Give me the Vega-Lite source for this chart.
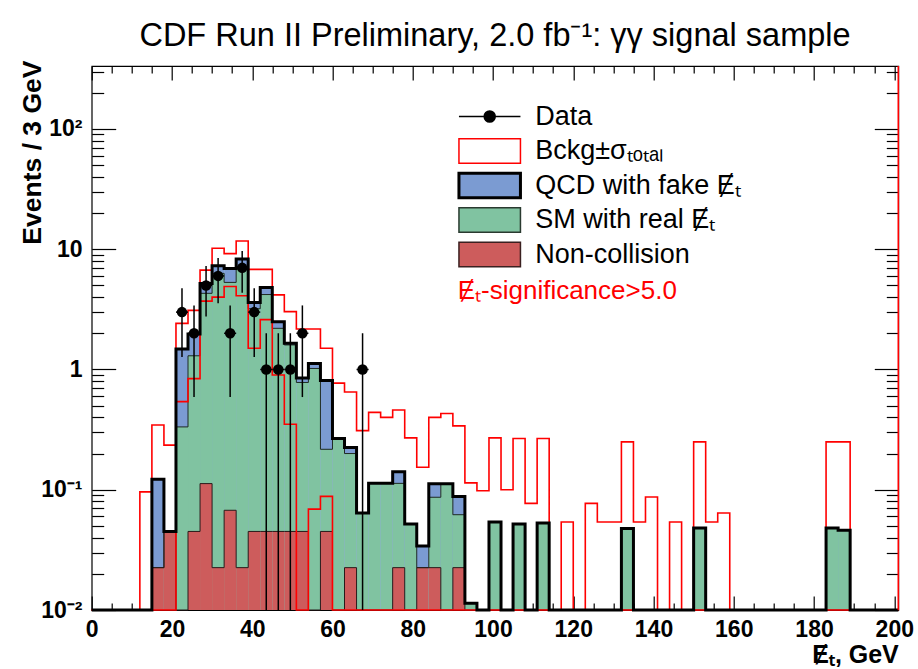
{
  "$schema": "https://vega.github.io/schema/vega-lite/v6.json",
  "width": 806.6,
  "height": 544,
  "autosize": {"type": "none"},
  "padding": {"left": 91.7, "top": 66, "right": 19.7, "bottom": 59},
  "background": "white",
  "config": {"view": {"stroke": "black", "strokeWidth": 1.2}, "font": "Liberation Sans"},
  "title": {
    "text": "CDF Run II Preliminary, 2.0 fb\u207b\u00b9: \u03b3\u03b3 signal sample",
    "font": "Liberation Sans", "fontSize": 32.5, "fontWeight": "normal", "color": "black",
    "anchor": "middle", "frame": "group", "baseline": "alphabetic", "offset": -18
  },
  "datasets": {
    "bins": [
      {"x0":0,"x1":3,"tot":0,"sm":0,"nc":0,"bhi":0,"blo":0},
      {"x0":3,"x1":6,"tot":0,"sm":0,"nc":0,"bhi":0,"blo":0},
      {"x0":6,"x1":9,"tot":0,"sm":0,"nc":0,"bhi":0,"blo":0},
      {"x0":9,"x1":12,"tot":0,"sm":0,"nc":0,"bhi":0,"blo":0},
      {"x0":12,"x1":15,"tot":0,"sm":0,"nc":0,"bhi":0.096,"blo":0},
      {"x0":15,"x1":18,"tot":0.122,"sm":0.0225,"nc":0.0225,"bhi":0.345,"blo":0},
      {"x0":18,"x1":21,"tot":0.045,"sm":0.045,"nc":0.045,"bhi":0.235,"blo":0},
      {"x0":21,"x1":24,"tot":1.48,"sm":0.333,"nc":0,"bhi":2.42,"blo":0.54},
      {"x0":24,"x1":27,"tot":1.97,"sm":1.3,"nc":0.045,"bhi":3.1,"blo":0.84},
      {"x0":27,"x1":30,"tot":5.2,"sm":4.3,"nc":0.1125,"bhi":6.7,"blo":3.7},
      {"x0":30,"x1":33,"tot":7.3,"sm":6.3,"nc":0.0225,"bhi":10.2,"blo":4.0},
      {"x0":33,"x1":36,"tot":6.9,"sm":5.3,"nc":0.0675,"bhi":9.2,"blo":4.9},
      {"x0":36,"x1":39,"tot":8.3,"sm":7.2,"nc":0.0225,"bhi":11.7,"blo":4.1},
      {"x0":39,"x1":42,"tot":3.6,"sm":3.2,"nc":0.045,"bhi":6.8,"blo":1.5},
      {"x0":42,"x1":45,"tot":4.8,"sm":4.2,"nc":0.045,"bhi":6.8,"blo":2.6},
      {"x0":45,"x1":48,"tot":2.5,"sm":2.2,"nc":0.045,"bhi":4.17,"blo":0.9},
      {"x0":48,"x1":51,"tot":1.65,"sm":1.6,"nc":0.045,"bhi":3.03,"blo":0.35},
      {"x0":51,"x1":54,"tot":0.85,"sm":0.78,"nc":0.045,"bhi":2.17,"blo":0},
      {"x0":54,"x1":57,"tot":1.12,"sm":1.02,"nc":0,"bhi":2.17,"blo":0.069},
      {"x0":57,"x1":60,"tot":0.81,"sm":0.217,"nc":0.045,"bhi":1.5,"blo":0.088},
      {"x0":60,"x1":63,"tot":0.267,"sm":0.267,"nc":0,"bhi":0.77,"blo":0},
      {"x0":63,"x1":66,"tot":0.225,"sm":0.2,"nc":0.0225,"bhi":0.65,"blo":0},
      {"x0":66,"x1":69,"tot":0.064,"sm":0.064,"nc":0,"bhi":0.31,"blo":0},
      {"x0":69,"x1":72,"tot":0.113,"sm":0.113,"nc":0,"bhi":0.44,"blo":0},
      {"x0":72,"x1":75,"tot":0.113,"sm":0.113,"nc":0,"bhi":0.40,"blo":0},
      {"x0":75,"x1":78,"tot":0.141,"sm":0.113,"nc":0.0225,"bhi":0.46,"blo":0},
      {"x0":78,"x1":81,"tot":0.052,"sm":0.052,"nc":0,"bhi":0.27,"blo":0},
      {"x0":81,"x1":84,"tot":0.034,"sm":0.0225,"nc":0.0225,"bhi":0.154,"blo":0},
      {"x0":84,"x1":87,"tot":0.112,"sm":0.0866,"nc":0.0225,"bhi":0.40,"blo":0},
      {"x0":87,"x1":90,"tot":0.112,"sm":0.112,"nc":0,"bhi":0.43,"blo":0},
      {"x0":90,"x1":93,"tot":0.088,"sm":0.062,"nc":0.0225,"bhi":0.34,"blo":0},
      {"x0":93,"x1":96,"tot":0.0114,"sm":0.0114,"nc":0,"bhi":0.114,"blo":0},
      {"x0":96,"x1":99,"tot":0,"sm":0,"nc":0,"bhi":0.098,"blo":0},
      {"x0":99,"x1":102,"tot":0.054,"sm":0.054,"nc":0,"bhi":0.27,"blo":0},
      {"x0":102,"x1":105,"tot":0,"sm":0,"nc":0,"bhi":0.1,"blo":0},
      {"x0":105,"x1":108,"tot":0.052,"sm":0.052,"nc":0,"bhi":0.267,"blo":0},
      {"x0":108,"x1":111,"tot":0,"sm":0,"nc":0,"bhi":0.077,"blo":0},
      {"x0":111,"x1":114,"tot":0.053,"sm":0.053,"nc":0,"bhi":0.267,"blo":0},
      {"x0":114,"x1":117,"tot":0,"sm":0,"nc":0,"bhi":0,"blo":0},
      {"x0":117,"x1":120,"tot":0,"sm":0,"nc":0,"bhi":0.054,"blo":0},
      {"x0":120,"x1":123,"tot":0,"sm":0,"nc":0,"bhi":0,"blo":0},
      {"x0":123,"x1":126,"tot":0,"sm":0,"nc":0,"bhi":0.077,"blo":0},
      {"x0":126,"x1":129,"tot":0,"sm":0,"nc":0,"bhi":0.054,"blo":0},
      {"x0":129,"x1":132,"tot":0,"sm":0,"nc":0,"bhi":0.054,"blo":0},
      {"x0":132,"x1":135,"tot":0.0476,"sm":0.0476,"nc":0,"bhi":0.25,"blo":0},
      {"x0":135,"x1":138,"tot":0,"sm":0,"nc":0,"bhi":0.054,"blo":0},
      {"x0":138,"x1":141,"tot":0,"sm":0,"nc":0,"bhi":0.087,"blo":0},
      {"x0":141,"x1":144,"tot":0,"sm":0,"nc":0,"bhi":0,"blo":0},
      {"x0":144,"x1":147,"tot":0,"sm":0,"nc":0,"bhi":0.054,"blo":0},
      {"x0":147,"x1":150,"tot":0,"sm":0,"nc":0,"bhi":0,"blo":0},
      {"x0":150,"x1":153,"tot":0.048,"sm":0.048,"nc":0,"bhi":0.25,"blo":0},
      {"x0":153,"x1":156,"tot":0,"sm":0,"nc":0,"bhi":0.054,"blo":0},
      {"x0":156,"x1":159,"tot":0,"sm":0,"nc":0,"bhi":0.064,"blo":0},
      {"x0":159,"x1":162,"tot":0,"sm":0,"nc":0,"bhi":0,"blo":0},
      {"x0":162,"x1":165,"tot":0,"sm":0,"nc":0,"bhi":0,"blo":0},
      {"x0":165,"x1":168,"tot":0,"sm":0,"nc":0,"bhi":0,"blo":0},
      {"x0":168,"x1":171,"tot":0,"sm":0,"nc":0,"bhi":0,"blo":0},
      {"x0":171,"x1":174,"tot":0,"sm":0,"nc":0,"bhi":0,"blo":0},
      {"x0":174,"x1":177,"tot":0,"sm":0,"nc":0,"bhi":0,"blo":0},
      {"x0":177,"x1":180,"tot":0,"sm":0,"nc":0,"bhi":0,"blo":0},
      {"x0":180,"x1":183,"tot":0,"sm":0,"nc":0,"bhi":0,"blo":0},
      {"x0":183,"x1":186,"tot":0.048,"sm":0.048,"nc":0,"bhi":0.25,"blo":0},
      {"x0":186,"x1":189,"tot":0.046,"sm":0.046,"nc":0,"bhi":0.25,"blo":0},
      {"x0":189,"x1":192,"tot":0,"sm":0,"nc":0,"bhi":0,"blo":0},
      {"x0":192,"x1":195,"tot":0,"sm":0,"nc":0,"bhi":0,"blo":0},
      {"x0":195,"x1":198,"tot":0,"sm":0,"nc":0,"bhi":0,"blo":0},
      {"x0":198,"x1":201,"tot":0,"sm":0,"nc":0,"bhi":0,"blo":0},
      {"x0":201,"x1":201,"tot":0,"sm":0,"nc":0,"bhi":0,"blo":0}
    ],
    "events": [
      {"x0":21,"x1":24,"xc":22.5,"n":3,"elo":1.27,"ehi":4.73},
      {"x0":24,"x1":27,"xc":25.5,"n":2,"elo":0.59,"ehi":3.41},
      {"x0":27,"x1":30,"xc":28.5,"n":5,"elo":2.76,"ehi":7.24},
      {"x0":30,"x1":33,"xc":31.5,"n":6,"elo":3.55,"ehi":8.45},
      {"x0":33,"x1":36,"xc":34.5,"n":2,"elo":0.59,"ehi":3.41},
      {"x0":36,"x1":39,"xc":37.5,"n":7,"elo":4.35,"ehi":9.65},
      {"x0":39,"x1":42,"xc":40.5,"n":3,"elo":1.27,"ehi":4.73},
      {"x0":42,"x1":45,"xc":43.5,"n":1,"elo":0,"ehi":2},
      {"x0":45,"x1":48,"xc":46.5,"n":1,"elo":0,"ehi":2},
      {"x0":48,"x1":51,"xc":49.5,"n":1,"elo":0,"ehi":2},
      {"x0":51,"x1":54,"xc":52.5,"n":2,"elo":0.59,"ehi":3.41},
      {"x0":66,"x1":69,"xc":67.5,"n":1,"elo":0,"ehi":2}
    ],
    "notes": [
      {"label": "\u0246\u209c-significance>5.0", "at": 91.2, "level": 3.86}
    ],
    "edges": [
      {"edge": 201}
    ]
  },
  "layer": [
    {
      "data": {"name": "bins"},
      "transform": [{"fold": ["tot", "sm", "nc"], "as": ["comp", "v"]}],
      "mark": {"type": "rect", "strokeWidth": 0},
      "encoding": {
        "x": {
          "field": "x0", "type": "quantitative",
          "scale": {"domain": [0, 201], "nice": false, "zero": false},
          "axis": {
            "orient": "bottom",
            "values": [0,5,10,15,20,25,30,35,40,45,50,55,60,65,70,75,80,85,90,95,100,105,110,115,120,125,130,135,140,145,150,155,160,165,170,175,180,185,190,195,200],
            "labelExpr": "datum.value % 20 === 0 ? datum.label : ''",
            "format": "d",
            "domain": false, "grid": false,
            "tickColor": "black", "tickWidth": 1.2,
            "tickSize": {"condition": {"test": "datum.value % 20 === 0", "value": -14}, "value": -7},
            "labelFont": "Liberation Sans", "labelFontWeight": "bold", "labelFontSize": 23, "labelColor": "black",
            "labelBaseline": "alphabetic", "labelPadding": 40.7, "labelFlush": false, "labelOverlap": false, "labelBound": false,
            "title": "\u0246\u209c, GeV",
            "titleFont": "Liberation Sans", "titleFontWeight": "bold", "titleFontSize": 25, "titleColor": "black",
            "titleAlign": "right", "titleBaseline": "alphabetic", "titleX": 806.6, "titleY": 52
          }
        },
        "x2": {"field": "x1"},
        "y": {
          "field": "v", "type": "quantitative",
          "scale": {"type": "log", "domain": [0.01, 334], "nice": false, "clamp": true},
          "axis": {
            "orient": "left",
            "values": [0.01,0.02,0.03,0.04,0.05,0.06,0.07,0.08,0.09,0.1,0.2,0.3,0.4,0.5,0.6,0.7,0.8,0.9,1,2,3,4,5,6,7,8,9,10,20,30,40,50,60,70,80,90,100,200,300],
            "labelExpr": "datum.value === 0.01 ? '10\u207b\u00b2' : datum.value === 0.1 ? '10\u207b\u00b9' : datum.value === 1 ? '1' : datum.value === 10 ? '10' : datum.value === 100 ? '10\u00b2' : ''",
            "domain": false, "grid": false,
            "tickColor": "black", "tickWidth": 1.2,
            "tickSize": {"condition": {"test": "indexof([0.01, 0.1, 1, 10, 100], datum.value) >= 0", "value": -24}, "value": -12},
            "labelFont": "Liberation Sans", "labelFontWeight": "bold", "labelFontSize": 23, "labelColor": "black",
            "labelBaseline": "middle", "labelAlign": "right", "labelPadding": 33.7, "labelFlush": false, "labelOverlap": false, "labelBound": false,
            "title": "Events / 3 GeV",
            "titleFont": "Liberation Sans", "titleFontWeight": "bold", "titleFontSize": 26.5, "titleColor": "black",
            "titleAngle": -90, "titleAnchor": "end", "titleAlign": "right", "titleBaseline": "alphabetic", "titleX": -51, "titleY": -6
          }
        },
        "y2": {"datum": 0.01},
        "fill": {
          "field": "comp", "type": "nominal",
          "scale": {"domain": ["data", "band", "tot", "sm", "nc"], "range": ["#000000", "#ffffff", "#7b9bd2", "#80c3a1", "#cd5c5c"]},
          "legend": {
            "orient": "none", "legendX": 384.5, "legendY": 37, "title": null, "padding": 0,
            "gridAlign": "all",
            "symbolType": "M-2.5,-1H2.5V1H-2.5Z", "symbolSize": 605, "symbolStrokeWidth": 1.5,
            "labelFont": "Liberation Sans", "labelFontSize": 27, "labelColor": "black",
            "labelOffset": 32, "rowPadding": -2.5, "labelLimit": 400,
            "labelExpr": "datum.label === 'data' ? 'Data' : datum.label === 'band' ? 'Bckg\u00b1\u03c3\u209c\u2092\u209c\u2090\u2097' : datum.label === 'tot' ? 'QCD with fake \u0246\u209c' : datum.label === 'sm' ? 'SM with real \u0246\u209c' : 'Non-collision'",
            "encode": {
              "symbols": {
                "update": {
                  "shape": {"signal": "datum.value === 'data' ? 'M-2.5,0H2.5M0.45,0A0.45,0.45 0 1,1 -0.45,0A0.45,0.45 0 1,1 0.45,0Z' : 'M-2.5,-1H2.5V1H-2.5Z'"},
                  "stroke": {"signal": "datum.value === 'band' ? '#ff0000' : datum.value === 'sm' ? '#2a3a30' : datum.value === 'nc' ? '#3a2020' : '#000000'"},
                  "strokeWidth": {"signal": "datum.value === 'tot' ? 3 : 1.5"},
                  "opacity": {"value": 1}
                }
              }
            }
          }
        }
      }
    },
    {
      "data": {"name": "bins"},
      "mark": {"type": "line", "interpolate": "step-after", "color": "#1e2a22", "strokeWidth": 1},
      "encoding": {
        "x": {"field": "x0", "type": "quantitative", "axis": null},
        "y": {"field": "sm", "type": "quantitative", "axis": null}
      }
    },
    {
      "data": {"name": "bins"},
      "mark": {"type": "line", "interpolate": "step-after", "color": "#2a1a1a", "strokeWidth": 1},
      "encoding": {
        "x": {"field": "x0", "type": "quantitative", "axis": null},
        "y": {"field": "nc", "type": "quantitative", "axis": null}
      }
    },
    {
      "data": {"name": "bins"},
      "mark": {"type": "line", "interpolate": "step-after", "color": "#ff0000", "strokeWidth": 1.6},
      "encoding": {
        "x": {"field": "x0", "type": "quantitative", "axis": null},
        "y": {"field": "bhi", "type": "quantitative", "axis": null}
      }
    },
    {
      "data": {"name": "bins"},
      "mark": {"type": "line", "interpolate": "step-after", "color": "#ff0000", "strokeWidth": 1.6},
      "encoding": {
        "x": {"field": "x0", "type": "quantitative", "axis": null},
        "y": {"field": "blo", "type": "quantitative", "axis": null}
      }
    },
    {
      "data": {"name": "bins"},
      "mark": {"type": "line", "interpolate": "step-after", "color": "#000000", "strokeWidth": 3},
      "encoding": {
        "x": {"field": "x0", "type": "quantitative", "axis": null},
        "y": {"field": "tot", "type": "quantitative", "axis": null}
      }
    },
    {
      "data": {"name": "edges"},
      "mark": {"type": "rule", "color": "#ff0000", "strokeWidth": 1.6},
      "encoding": {
        "x": {"field": "edge", "type": "quantitative", "axis": null}
      }
    },
    {
      "data": {"name": "events"},
      "mark": {"type": "rule", "color": "#000000", "strokeWidth": 1.5},
      "encoding": {
        "x": {"field": "xc", "type": "quantitative", "axis": null},
        "y": {"field": "elo", "type": "quantitative", "axis": null},
        "y2": {"field": "ehi"}
      }
    },
    {
      "data": {"name": "events"},
      "mark": {"type": "rule", "color": "#000000", "strokeWidth": 1.5},
      "encoding": {
        "x": {"field": "x0", "type": "quantitative", "axis": null},
        "x2": {"field": "x1"},
        "y": {"field": "n", "type": "quantitative", "axis": null}
      }
    },
    {
      "data": {"name": "notes"},
      "mark": {"type": "text", "color": "#ff0000", "font": "Liberation Sans", "fontSize": 26, "align": "left", "baseline": "alphabetic"},
      "encoding": {
        "text": {"field": "label"},
        "x": {"field": "at", "type": "quantitative", "axis": null},
        "y": {"field": "level", "type": "quantitative", "axis": null}
      }
    },
    {
      "data": {"name": "events"},
      "mark": {"type": "point", "shape": "circle", "filled": true, "color": "#000000", "size": 110, "opacity": 1},
      "encoding": {
        "x": {
          "field": "xc", "type": "quantitative",
          "axis": {
            "orient": "top", "labels": false, "title": null, "domain": false, "grid": false,
            "values": [0,5,10,15,20,25,30,35,40,45,50,55,60,65,70,75,80,85,90,95,100,105,110,115,120,125,130,135,140,145,150,155,160,165,170,175,180,185,190,195,200],
            "tickColor": "black", "tickWidth": 1.2,
            "tickSize": {"condition": {"test": "datum.value % 20 === 0", "value": -14}, "value": -7}
          }
        },
        "y": {
          "field": "n", "type": "quantitative",
          "axis": {
            "orient": "right", "labels": false, "title": null, "domain": false, "grid": false,
            "values": [0.01,0.02,0.03,0.04,0.05,0.06,0.07,0.08,0.09,0.1,0.2,0.3,0.4,0.5,0.6,0.7,0.8,0.9,1,2,3,4,5,6,7,8,9,10,20,30,40,50,60,70,80,90,100,200,300],
            "tickColor": "black", "tickWidth": 1.2,
            "tickSize": {"condition": {"test": "indexof([0.01, 0.1, 1, 10, 100], datum.value) >= 0", "value": -24}, "value": -12}
          }
        }
      }
    }
  ],
  "resolve": {"axis": {"x": "independent", "y": "independent"}}
}
